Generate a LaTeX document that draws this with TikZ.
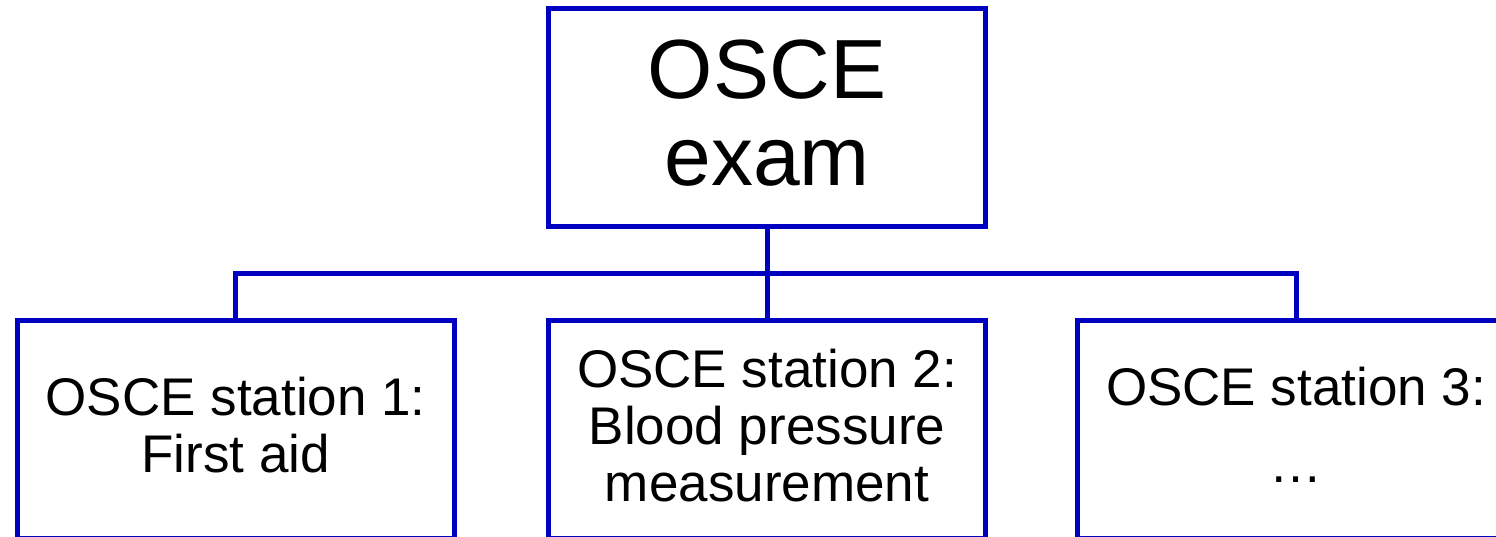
\documentclass[tikz,border=0pt]{standalone}
\usepackage{fontspec}
\setmainfont{Liberation Sans}
\definecolor{boxblue}{RGB}{0,0,192}
\newcommand{\dep}[1]{\rule[-#1]{0pt}{#1}}
\begin{document}
\begin{tikzpicture}[x=1pt,y=-1pt,
  box/.style={draw=boxblue, line width=5pt, minimum width=437pt, minimum height=218pt,
    inner sep=0pt, align=center, text=black},
  bigtext/.style={font=\fontsize{84}{87}\selectfont},
  smalltext/.style={font=\fontsize{53}{57}\selectfont},
  link/.style={draw=boxblue, line width=5pt}]
\useasboundingbox (0,0) rectangle (1496,537);
\clip (0,0) rectangle (1496,537);
\node[box, bigtext] (top) at (767,117.5) {OSCE\\exam\dep{10pt}};
\node[box, smalltext] (b1) at (235.75,429) {OSCE station 1:\\First aid\dep{8pt}};
\node[box, smalltext] (b2) at (767,429) {OSCE station 2:\\Blood pressure\\measurement\dep{8pt}};
\node[box, smalltext] (b3) at (1296,429) {OSCE station 3:\\[20pt]\dots\dep{8pt}};
\coordinate (bus) at (767,274);
\draw[link] (top.south) -- (bus);
\draw[link] (b2.north) -- (bus);
\draw[link] (b1.north) |- (bus);
\draw[link] (b3.north) |- (bus);
\end{tikzpicture}
\end{document}
